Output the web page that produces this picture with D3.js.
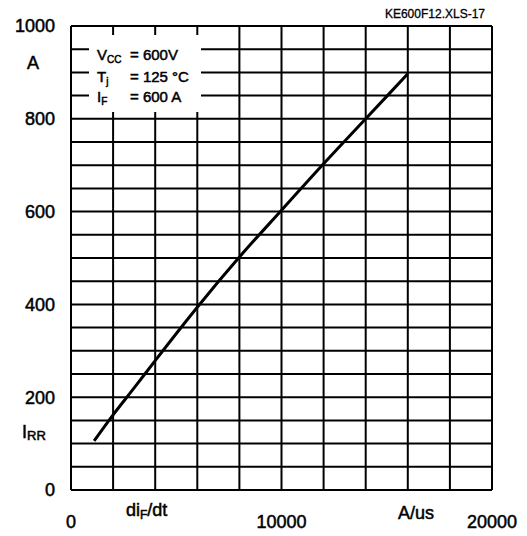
<!DOCTYPE html>
<html>
<head>
<meta charset="utf-8">
<script src="https://cdn.jsdelivr.net/npm/d3@7"></script>
<style>
  body { margin: 0; background: #fff; }
  text { font-family: "Liberation Sans", Arial, sans-serif; fill: #000; stroke: #000; stroke-width: 0.5px; }
</style>
</head>
<body>
<div id="chart"></div>
<script>
var didt = [1100, 2000, 3000, 4000, 6000, 8000, 10000, 12000, 14000, 16000]
var irr = [106, 162, 220, 279, 394, 502, 603, 703, 800, 897]
var xTicks = [0, 10000, 20000]
var yTicks = [0, 200, 400, 600, 800, 1000]

var margin = {top: 26, right: 35, bottom: 46, left: 71},
    width = 527 - margin.left - margin.right,
    height = 536 - margin.top - margin.bottom

var svg = d3.select("#chart").append("svg")
    .attr("width", 527)
    .attr("height", 536)

var g = svg.append("g")
    .attr("transform", "translate(" + margin.left + "," + margin.top + ")")

var x = d3.scaleLinear().domain([0, 20000]).range([0, width])
var y = d3.scaleLinear().domain([0, 1000]).range([height, 0])

// grid
g.selectAll(".vgrid").data(d3.range(0, 20001, 2000)).enter().append("line")
    .attr("x1", d => x(d)).attr("x2", d => x(d))
    .attr("y1", 0).attr("y2", height)
    .attr("stroke", "#000").attr("stroke-width", 2)
g.selectAll(".hgrid").data(d3.range(0, 1001, 50)).enter().append("line")
    .attr("y1", d => y(d)).attr("y2", d => y(d))
    .attr("x1", 0).attr("x2", width)
    .attr("stroke", "#000").attr("stroke-width", 2)

// legend box covers the grid
g.append("rect")
    .attr("x", 18).attr("y", 9)
    .attr("width", 112).attr("height", 77)
    .attr("fill", "#fff")

var leg = [
  {m: "V", s: "CC", v: "= 600V", yy: 34},
  {m: "T", s: "j", v: "= 125 °C", yy: 56},
  {m: "I", s: "F", v: "= 600 A", yy: 76}
]
leg.forEach(function (l) {
  var t = g.append("text").attr("x", 26).attr("y", l.yy).attr("font-size", 15)
  t.append("tspan").text(l.m)
  t.append("tspan").attr("font-size", 10).attr("dy", 3).text(l.s)
  g.append("text").attr("x", 59).attr("y", l.yy).attr("font-size", 15).text(l.v)
})

// curve
g.append("path")
    .datum(didt.map((d, i) => [d, irr[i]]))
    .attr("fill", "none")
    .attr("stroke", "#000")
    .attr("stroke-width", 3)
    .attr("d", d3.line().x(d => x(d[0])).y(d => y(d[1])).curve(d3.curveMonotoneX))

// tick labels
g.selectAll(".yt").data(yTicks).enter().append("text")
    .attr("x", -16).attr("y", d => y(d)).attr("dy", "0.35em")
    .attr("text-anchor", "end").attr("font-size", 18)
    .text(d => d)
g.selectAll(".xt").data(xTicks).enter().append("text")
    .attr("x", d => x(d)).attr("y", height + 38)
    .attr("text-anchor", "middle").attr("font-size", 18)
    .text(d => d)

// axis names
svg.append("text").attr("x", 33).attr("y", 69).attr("text-anchor", "middle")
    .attr("font-size", 18).text("A")
var ir = svg.append("text").attr("x", 22).attr("y", 438).attr("font-size", 18)
ir.append("tspan").text("I")
ir.append("tspan").attr("font-size", 13).attr("dy", 2).text("RR")
var di = svg.append("text").attr("x", 126).attr("y", 516).attr("font-size", 18)
di.append("tspan").text("di")
di.append("tspan").attr("font-size", 12).attr("dy", 3).text("F")
di.append("tspan").attr("dy", -3).text("/dt")
svg.append("text").attr("x", 398).attr("y", 519).attr("font-size", 18).text("A/us")

svg.append("text").attr("x", 485).attr("y", 18).attr("text-anchor", "end")
    .attr("font-size", 12).style("stroke-width", "0.3px").text("KE600F12.XLS-17")
</script>
</body>
</html>
